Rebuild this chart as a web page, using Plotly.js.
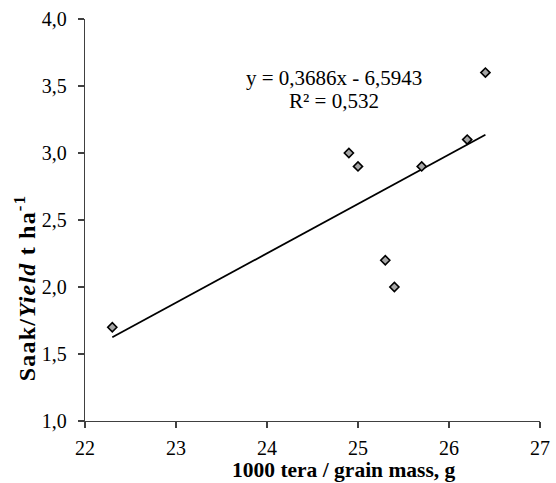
<!DOCTYPE html>
<html>
<head>
<meta charset="utf-8">
<script src="https://cdn.plot.ly/plotly-3.0.1.min.js"></script>
<style>
html,body{margin:0;padding:0;background:#fff;}
#chart{width:556px;height:483px;}
.annotation.ytitle-ann text{letter-spacing:1.2px;}
</style>
</head>
<body>
<div id="chart"></div>
<script>
const grainMass = [22.3, 24.9, 25.0, 25.3, 25.4, 25.7, 26.2, 26.4];
const yieldT = [1.7, 3.0, 2.9, 2.2, 2.0, 2.9, 3.1, 3.6];
const xTicks = [22, 23, 24, 25, 26, 27];
const yTicks = [1.0, 1.5, 2.0, 2.5, 3.0, 3.5, 4.0];
const equationText = "y = 0,3686x - 6,5943";
const r2Text = "R² = 0,532";
const xTitle = "<b>1000 tera / grain mass, g</b>";
const yTitle = "<b>Saak/<i>Yield</i> t ha<sup>-1</sup></b>";

// least-squares trend line from the data
const n = grainMass.length;
const mx = grainMass.reduce((a, b) => a + b, 0) / n;
const my = yieldT.reduce((a, b) => a + b, 0) / n;
let sxy = 0, sxx = 0;
for (let i = 0; i < n; i++) { sxy += (grainMass[i] - mx) * (yieldT[i] - my); sxx += (grainMass[i] - mx) ** 2; }
const slope = sxy / sxx, icpt = my - slope * mx;
const xMin = Math.min(...grainMass), xMax = Math.max(...grainMass);
const trendX = [xMin, xMax];
const trendY = trendX.map(x => slope * x + icpt);

const fam = '"Liberation Serif", "Times New Roman", serif';
const font = {family: fam, size: 20, color: '#000'};

const data = [
  {x: trendX, y: trendY, mode: 'lines', type: 'scatter', line: {color: '#000', width: 1.8}, hoverinfo: 'skip', showlegend: false},
  {x: grainMass, y: yieldT, mode: 'markers', type: 'scatter',
   marker: {symbol: 'diamond', size: 7, color: '#a6a6a6', line: {color: '#000', width: 1.6}}, showlegend: false}
];

const axisCommon = {showgrid: false, zeroline: false, showline: true, linecolor: '#404040', linewidth: 1.2,
  ticks: 'outside', ticklen: 6, tickcolor: '#404040', tickwidth: 1.2, tickfont: font, mirror: false, fixedrange: true};

const W = 455, H = 402, L = 85, T = 19;
const px = x => (x - L) / W;
const py = y => (T + H - y) / H;

const layout = {
  width: 556, height: 483,
  margin: {l: L, r: 556 - L - W, t: T, b: 483 - T - H},
  paper_bgcolor: '#fff', plot_bgcolor: '#fff',
  separators: ',.',
  font: font,
  xaxis: Object.assign({}, axisCommon, {range: [22, 27], tickvals: xTicks, ticktext: xTicks.map(String), ticklabelstandoff: 3}),
  yaxis: Object.assign({}, axisCommon, {range: [1, 4], tickvals: yTicks, ticktext: yTicks.map(v => v.toFixed(1).replace('.', ',')), ticklabelstandoff: 7}),
  annotations: [
    {xref: 'paper', yref: 'paper', x: px(334), y: py(78), text: equationText, showarrow: false, font: {family: fam, size: 21, color: '#000'}, xanchor: 'center', yanchor: 'middle'},
    {xref: 'paper', yref: 'paper', x: px(334), y: py(101), text: r2Text, showarrow: false, font: {family: fam, size: 21, color: '#000'}, xanchor: 'center', yanchor: 'middle'},
    {xref: 'paper', yref: 'paper', x: px(344), y: py(470), text: xTitle, showarrow: false, font: {family: fam, size: 21.5, color: '#000'}, xanchor: 'center', yanchor: 'middle'},
    {xref: 'paper', yref: 'paper', x: px(25), y: py(288), text: yTitle, showarrow: false, textangle: -90, font: {family: fam, size: 24, color: '#000'}, xanchor: 'center', yanchor: 'middle'}
  ]
};

Plotly.newPlot('chart', data, layout, {displayModeBar: false, staticPlot: true}).then(() => {
  const anns = document.querySelectorAll('.annotation');
  if (anns.length) anns[anns.length - 1].classList.add('ytitle-ann');
});
</script>
</body>
</html>
